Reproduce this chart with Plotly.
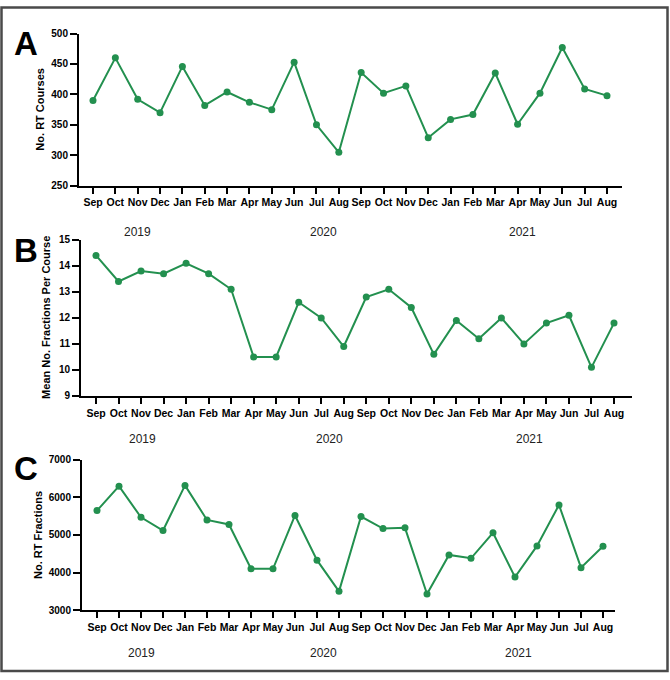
import plotly.graph_objects as go

months = ["Sep", "Oct", "Nov", "Dec", "Jan", "Feb", "Mar", "Apr", "May", "Jun", "Jul", "Aug",
          "Sep", "Oct", "Nov", "Dec", "Jan", "Feb", "Mar", "Apr", "May", "Jun", "Jul", "Aug"]
years = ["2019", "2020", "2021"]

rt_courses = [390, 460, 392, 370, 446, 382, 404, 387, 375, 453, 350, 305,
              436, 402, 414, 329, 359, 367, 435, 351, 402, 477, 409, 398]
mean_fractions = [14.4, 13.4, 13.8, 13.7, 14.1, 13.7, 13.1, 10.5, 10.5, 12.6, 12.0, 10.9,
                  12.8, 13.1, 12.4, 10.6, 11.9, 11.2, 12.0, 11.0, 11.8, 12.1, 10.1, 11.8]
rt_fractions = [5650, 6300, 5470, 5120, 6320, 5400, 5280, 4100, 4100, 5520, 4330, 3500,
                5490, 5170, 5190, 3430, 4470, 4380, 5060, 3880, 4710, 5800, 4130, 4700]

W, H = 670, 680
GREEN = "#23904f"
FONT = "Liberation Sans, Arial, sans-serif"

x = list(range(len(months)))

def px(v):
    return v / W

def py(v):
    return 1 - v / H

# panel geometry (pixels): axis left, axis right, first pt, last pt, top, bottom
panels = [
    dict(name="A", y=rt_courses, title="No. RT Courses", ax_l=79, ax_r=622, p0=93, p1=607,
         top=28, bot=183, yr=[250, 500], dt=50, ylab_x=40, year_y=230,
         year_x=[137, 323, 522], letter_y=38),
    dict(name="B", y=mean_fractions, title="Mean No. Fractions Per Course", ax_l=81, ax_r=632,
         p0=96, p1=614, top=238, bot=397, yr=[9, 15], dt=1, ylab_x=46, year_y=441,
         year_x=[142, 329, 529], letter_y=249),
    dict(name="C", y=rt_fractions, title="No. RT Fractions", ax_l=82, ax_r=615, p0=97, p1=603,
         top=462, bot=615, yr=[3000, 7000], dt=1000, ylab_x=38, year_y=659,
         year_x=[141, 323, 518], letter_y=471),
]

fig = go.Figure()
annotations = []
layout = {}
n = len(months) - 1
for i, p in enumerate(panels):
    k = "" if i == 0 else str(i + 1)
    step = (p["p1"] - p["p0"]) / n
    xr = [-(p["p0"] - p["ax_l"]) / step, n + (p["ax_r"] - p["p1"]) / step]
    fig.add_trace(go.Scatter(
        x=x, y=p["y"], mode="lines+markers", xaxis="x" + k, yaxis="y" + k,
        line=dict(color=GREEN, width=2), marker=dict(color=GREEN, size=7),
        showlegend=False, hoverinfo="skip"))
    layout["xaxis" + k] = dict(
        domain=[px(p["ax_l"]), px(p["ax_r"])], anchor="y" + k, range=xr,
        tickmode="array", tickvals=x, ticktext=months,
        showline=True, linecolor="black", linewidth=2,
        ticks="outside", ticklen=6, tickwidth=2, tickcolor="black",
        showgrid=False, zeroline=False, fixedrange=True,
        tickfont=dict(family=FONT, size=10.5, color="black", weight="bold"))
    layout["yaxis" + k] = dict(
        domain=[py(p["bot"]), py(p["top"])], anchor="x" + k, range=p["yr"],
        dtick=p["dt"], tick0=p["yr"][0],
        showline=True, linecolor="black", linewidth=2,
        ticks="outside", ticklen=7, tickwidth=2, tickcolor="black",
        showgrid=False, zeroline=False, fixedrange=True,
        tickfont=dict(family=FONT, size=10, color="black", weight="bold"))
    # y-axis title
    annotations.append(dict(
        text=p["title"], x=px(p["ylab_x"]), y=py((p["top"] + p["bot"]) / 2),
        xref="paper", yref="paper", textangle=-90, showarrow=False,
        xanchor="center", yanchor="middle",
        font=dict(family=FONT, size=11, color="black", weight="bold")))
    # panel letter
    annotations.append(dict(
        text=p["name"], x=px(26), y=py(p["letter_y"]), xref="paper", yref="paper",
        showarrow=False, xanchor="center", yanchor="middle",
        font=dict(family="Liberation Sans Narrow, Arial Narrow, sans-serif", size=33,
                  color="black", weight="bold")))
    # year labels
    for yv, xv in zip(years, p["year_x"]):
        annotations.append(dict(
            text=yv, x=px(xv), y=py(p["year_y"]), xref="paper", yref="paper",
            showarrow=False, xanchor="center", yanchor="middle",
            font=dict(family=FONT, size=12, color="#222")))

fig.update_layout(
    width=W, height=H, autosize=False,
    margin=dict(l=0, r=0, t=0, b=0, pad=0),
    paper_bgcolor="white", plot_bgcolor="white",
    annotations=annotations,
    shapes=[dict(type="rect", xref="paper", yref="paper",
                 x0=px(1.5), x1=px(667.5), y0=py(677), y1=py(1.5),
                 line=dict(color="#4a4a4a", width=2.5))],
    **layout)

fig.write_html("out.html")
